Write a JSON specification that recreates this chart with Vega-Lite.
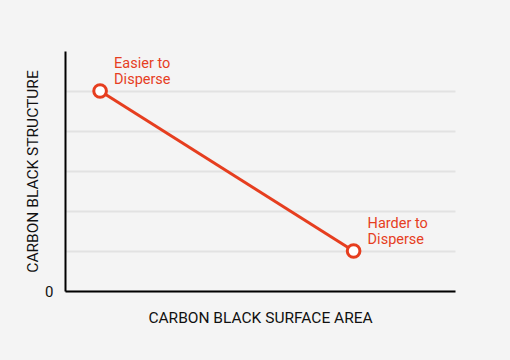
{
  "$schema": "https://vega.github.io/schema/vega-lite/v6.json",
  "width": 390,
  "height": 240,
  "autosize": "none",
  "padding": {"left": 65, "top": 51, "right": 55, "bottom": 69},
  "background": "#f4f4f4",
  "config": {
    "view": {"stroke": null},
    "font": "Roboto"
  },
  "data": {
    "values": [
      {"area": 0.9, "structure": 5, "label": "Easier to\nDisperse"},
      {"area": 7.4, "structure": 1, "label": "Harder to\nDisperse"}
    ]
  },
  "encoding": {
    "x": {
      "field": "area", "type": "quantitative",
      "scale": {"domain": [0, 10], "nice": false},
      "axis": {
        "title": "CARBON BLACK SURFACE AREA",
        "labels": false, "ticks": false, "grid": false,
        "domainColor": "#000000", "domainWidth": 2,
        "titleFont": "Roboto", "titleFontSize": 15.5, "titleFontWeight": "normal",
        "titleColor": "#111111", "titlePadding": 19
      }
    },
    "y": {
      "field": "structure", "type": "quantitative",
      "scale": {"domain": [0, 6], "nice": false},
      "axis": {
        "title": "CARBON BLACK STRUCTURE",
        "values": [0, 1, 2, 3, 4, 5],
        "labelExpr": "datum.value == 0 ? '0' : ''",
        "ticks": false,
        "grid": true, "gridColor": "#e2e2e2", "gridWidth": 2,
        "domainColor": "#000000", "domainWidth": 2,
        "labelFont": "Roboto", "labelFontSize": 15, "labelColor": "#111111", "labelPadding": 12,
        "titleFont": "Roboto", "titleFontSize": 15.5, "titleFontWeight": "normal",
        "titleColor": "#111111", "titlePadding": 4
      }
    }
  },
  "layer": [
    {"mark": {"type": "line", "color": "#e63e1f", "strokeWidth": 3}},
    {"mark": {"type": "point", "shape": "circle", "size": 160, "filled": true, "fill": "#ffffff", "stroke": "#e63e1f", "strokeWidth": 3, "opacity": 1}},
    {
      "mark": {"type": "text", "align": "left", "baseline": "top", "dx": 14, "dy": -34, "lineBreak": "\n", "lineHeight": 16, "fontSize": 14.5, "color": "#e63e1f", "font": "Roboto"},
      "encoding": {"text": {"field": "label"}}
    }
  ]
}
